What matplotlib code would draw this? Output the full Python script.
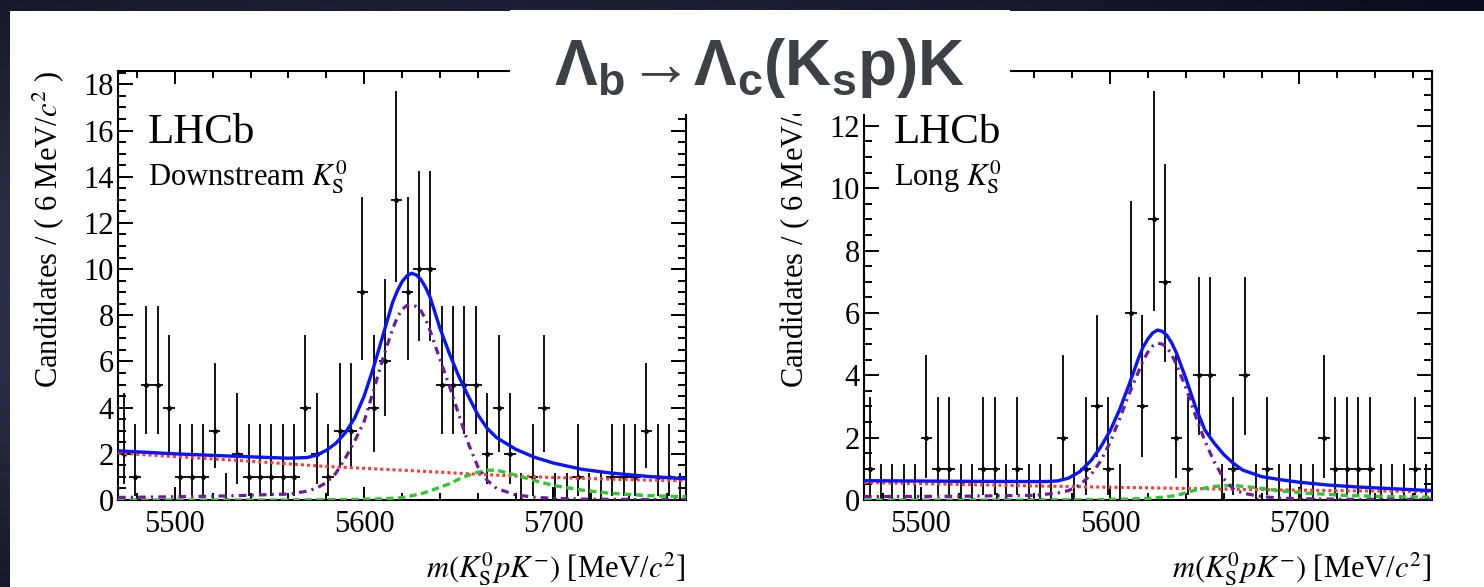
import numpy as np
import matplotlib
matplotlib.use("Agg")
import matplotlib.pyplot as plt
from matplotlib.patches import Rectangle
from matplotlib.ticker import MultipleLocator

# --- histogram binning (6 MeV bins) ---
MASS_LO = 5470
MASS_HI = 5770
BIN_W = 6

# counts per bin
downstream_counts = [2, 1, 5, 5, 4, 1, 1, 1, 3, 0, 2, 1, 1, 1, 1, 1, 4, 2, 1, 3,
                     3, 9, 4, 6, 13, 9, 10, 10, 5, 5, 5, 5, 2, 4, 2, 0, 1, 4, 0, 0,
                     1, 0, 0, 1, 1, 1, 3, 1, 1, 0]
long_counts = [1, 0, 0, 0, 0, 2, 1, 1, 0, 0, 1, 1, 0, 1, 0, 0, 0, 2, 0, 1,
               3, 1, 0, 6, 3, 9, 7, 2, 1, 4, 4, 0, 1, 4, 0, 1, 0, 0, 0, 0,
               2, 1, 1, 1, 1, 0, 0, 0, 1, 0]

# Poisson (Garwood) 68% intervals used by RooFit, indexed by count
POIS_LO = [0.0, 0.173, 0.708, 1.367, 2.086, 2.840, 3.620, 4.419, 5.232, 6.057,
           6.891, 7.734, 8.585, 9.441]
POIS_HI = [1.148, 3.300, 4.638, 5.918, 7.163, 8.382, 9.584, 10.77, 11.95, 13.11,
           14.27, 15.42, 16.56, 17.70]

# --- fit curves, Downstream K0S ---
ds_total_m = [5470, 5500, 5530, 5560, 5570, 5575, 5580, 5585, 5590, 5595, 5600, 5605,
              5610, 5615, 5617.5, 5620, 5622.5, 5625, 5627.5, 5630, 5632.5, 5635,
              5640, 5645, 5650, 5655, 5660, 5665, 5670, 5680, 5690, 5700, 5715, 5730,
              5750, 5770]
ds_total_y = [2.13, 2.00, 1.90, 1.81, 1.84, 1.95, 2.15, 2.45, 2.90, 3.55, 4.50, 5.75,
              7.15, 8.55, 9.05, 9.45, 9.70, 9.82, 9.75, 9.55, 9.20, 8.75,
              7.45, 6.35, 5.35, 4.50, 3.70, 3.10, 2.70, 2.20, 1.85, 1.60, 1.33, 1.17,
              1.02, 0.92]
ds_sig_m = ds_total_m
ds_sig_y = [0.11, 0.14, 0.18, 0.26, 0.38, 0.52, 0.75, 1.15, 1.80, 2.55, 3.40, 4.75,
            6.15, 7.40, 7.90, 8.25, 8.42, 8.45, 8.38, 8.20, 7.82, 7.30,
            6.10, 4.95, 3.70, 2.45, 1.45, 0.85, 0.50, 0.22, 0.12, 0.07, 0.04, 0.03,
            0.02, 0.01]
ds_comb_m = [5470, 5500, 5536, 5577, 5600, 5625, 5661, 5690, 5722, 5745, 5770]
ds_comb_y = [2.03, 1.88, 1.70, 1.47, 1.37, 1.27, 1.11, 1.00, 0.92, 0.87, 0.83]
ds_part_m = [5470, 5560, 5590, 5610, 5620, 5625, 5630, 5635, 5640, 5645, 5650, 5655,
             5660, 5665, 5670, 5680, 5690, 5700, 5715, 5730, 5750, 5770]
ds_part_y = [0.0, 0.0, 0.02, 0.05, 0.10, 0.18, 0.27, 0.40, 0.55, 0.70, 0.90, 1.07,
             1.20, 1.29, 1.29, 1.08, 0.84, 0.63, 0.43, 0.29, 0.19, 0.14]

# --- fit curves, Long K0S ---
lg_total_m = [5470, 5520, 5565, 5572, 5578, 5584, 5590, 5595, 5600, 5605, 5610, 5615,
              5617.5, 5620, 5622.5, 5625, 5627.5, 5630, 5632.5, 5635, 5640, 5645,
              5650, 5655, 5660, 5665, 5670, 5680, 5690, 5700, 5715, 5730, 5750, 5770]
lg_total_y = [0.62, 0.60, 0.59, 0.61, 0.70, 0.91, 1.27, 1.70, 2.22, 2.90, 3.70, 4.55,
              4.92, 5.17, 5.36, 5.45, 5.41, 5.28, 5.04, 4.72, 3.90, 3.00,
              2.25, 1.82, 1.46, 1.18, 0.96, 0.75, 0.65, 0.57, 0.48, 0.42, 0.36, 0.30]
lg_sig_m = [5470, 5520, 5560, 5572, 5578, 5584, 5590, 5595, 5600, 5605, 5610, 5615,
            5617.5, 5620, 5622.5, 5625, 5627.5, 5630, 5632.5, 5635, 5640, 5645,
            5650, 5655, 5660, 5665, 5670, 5680, 5690, 5700, 5730, 5770]
lg_sig_y = [0.11, 0.12, 0.15, 0.22, 0.30, 0.48, 0.82, 1.25, 1.85, 2.60, 3.40, 4.12,
            4.48, 4.75, 4.94, 5.03, 5.00, 4.90, 4.66, 4.35, 3.60, 2.72,
            1.90, 1.22, 0.68, 0.36, 0.22, 0.11, 0.06, 0.04, 0.02, 0.02]
lg_comb_m = [5470, 5520, 5570, 5620, 5670, 5720, 5770]
lg_comb_y = [0.56, 0.50, 0.44, 0.39, 0.34, 0.30, 0.27]
lg_part_m = [5470, 5560, 5590, 5610, 5620, 5630, 5636, 5645, 5654, 5664, 5675, 5689,
             5706, 5724, 5745, 5770]
lg_part_y = [0.0, 0.0, 0.01, 0.03, 0.05, 0.10, 0.16, 0.32, 0.43, 0.47, 0.41, 0.30,
             0.21, 0.15, 0.11, 0.09]

W, H = 1484, 587

plt.rcParams["font.family"] = ["Liberation Serif", "DejaVu Serif"]
plt.rcParams["mathtext.fontset"] = "stix"
# custom math set only used by the slide title
plt.rcParams["mathtext.rm"] = "Liberation Sans:bold"
plt.rcParams["mathtext.it"] = "Liberation Sans:bold"
plt.rcParams["mathtext.bf"] = "Liberation Sans:bold"


def px_box(x0, y0, x1, y1):
    """pixel box (top-left origin) -> figure fraction rect"""
    return [x0 / W, 1 - y1 / H, (x1 - x0) / W, (y1 - y0) / H]


def draw_panel(ax, counts, total, sig, comb, part, ymax, label):
    n_bins = len(counts)
    centers = MASS_LO + BIN_W * (np.arange(n_bins) + 0.5)
    y_lo = [n - POIS_LO[n] for n in counts]
    y_hi = [POIS_HI[n] - n for n in counts]
    ax.errorbar(centers, counts, xerr=BIN_W / 2, yerr=[y_lo, y_hi], fmt="o", ms=2.5,
                color="black", ecolor="black", elinewidth=1.3, capsize=0, zorder=2)

    ax.plot(comb[0], comb[1], color="#ff3b3b", lw=2.2, ls=(0, (1, 1)), zorder=3)
    ax.plot(part[0], part[1], color="#35c435", lw=2.4, ls=(0, (2.2, 1.3)), zorder=3)
    ax.plot(sig[0], sig[1], color="#6a1e9c", lw=2.3, ls=(0, (2.4, 1.6, 0.7, 1.6)), zorder=4)
    ax.plot(total[0], total[1], color="#0a14ff", lw=2.4, zorder=5)

    ax.set_xlim(MASS_LO, MASS_HI)
    ax.set_ylim(0, ymax)
    ax.xaxis.set_major_locator(MultipleLocator(100))
    ax.xaxis.set_minor_locator(MultipleLocator(20))
    ax.yaxis.set_major_locator(MultipleLocator(2))
    ax.yaxis.set_minor_locator(MultipleLocator(0.5))
    ax.tick_params(which="both", direction="in", top=True, right=True, width=1.4,
                   labelsize=22)
    ax.tick_params(axis="x", which="major", length=9.5, pad=7)
    ax.tick_params(axis="x", which="minor", length=5)
    ax.tick_params(axis="y", which="major", length=11, pad=3)
    ax.tick_params(axis="y", which="minor", length=6)
    for sp in ax.spines.values():
        sp.set_linewidth(1.5)

    ax.set_ylabel(r"Candidates / ( 6 MeV/$c^{2}$ )", fontsize=22, loc="top")
    ax.yaxis.set_label_coords(-0.091, 1.0)
    ax.set_xlabel(r"$m(K^{0}_{\mathrm{S}}pK^{-})$ [MeV/$c^{\mathrm{2}}$]", fontsize=22,
                  loc="right")
    ax.xaxis.label.set_verticalalignment("baseline")
    ax.xaxis.set_label_coords(1.0, -0.18)

    ax.text(0.053, 0.833, "LHCb", transform=ax.transAxes, fontsize=31, va="baseline")
    ax.text(0.053, 0.733, label, transform=ax.transAxes, fontsize=22, va="baseline")


fig = plt.figure(figsize=(W / 100, H / 100), dpi=100)

# dark slide background
bg = fig.add_axes([0, 0, 1, 1], zorder=-5)
yy, xx = np.mgrid[0:1:80j, 0:1:200j]
r = np.clip(np.sqrt(((xx - 0.35) / 0.9) ** 2 + ((yy - 0.5) / 0.75) ** 2), 0, 1)
c_mid = np.array([0.25, 0.27, 0.37])
c_edge = np.array([0.04, 0.04, 0.11])
bg.imshow(c_mid + (c_edge - c_mid) * r[..., None], extent=[0, 1, 0, 1], aspect="auto",
          interpolation="bilinear")
bg.axis("off")

# white slide area
fig.add_artist(Rectangle((10 / W, 0), 1, 1 - 11 / H, transform=fig.transFigure,
                         facecolor="white", edgecolor="none", zorder=-4))

ax_ds = fig.add_axes(px_box(118, 71, 686, 500), zorder=1)
ax_lg = fig.add_axes(px_box(864, 71, 1432, 500), zorder=1)

draw_panel(ax_ds, downstream_counts, (ds_total_m, ds_total_y), (ds_sig_m, ds_sig_y),
           (ds_comb_m, ds_comb_y), (ds_part_m, ds_part_y), 18.58,
           r"Downstream $K^{0}_{\mathrm{S}}$")
draw_panel(ax_lg, long_counts, (lg_total_m, lg_total_y), (lg_sig_m, lg_sig_y),
           (lg_comb_m, lg_comb_y), (lg_part_m, lg_part_y), 13.76,
           r"Long $K^{0}_{\mathrm{S}}$")

# title box pasted over the top of both plots
x0, y0, w0, h0 = px_box(510, 10, 1010, 114)
fig.add_artist(Rectangle((x0, y0), w0, h0, transform=fig.transFigure,
                         facecolor="white", edgecolor="none", zorder=5))
fig.text(760 / W, 1 - 85 / H, r"$\Lambda_{b}\!\rightarrow\!\Lambda_{c}(K_{s}p)K$",
         math_fontfamily="custom", fontsize=46, color="#3d4146", ha="center",
         va="baseline", zorder=6)

fig.savefig("out.png", dpi=100)
